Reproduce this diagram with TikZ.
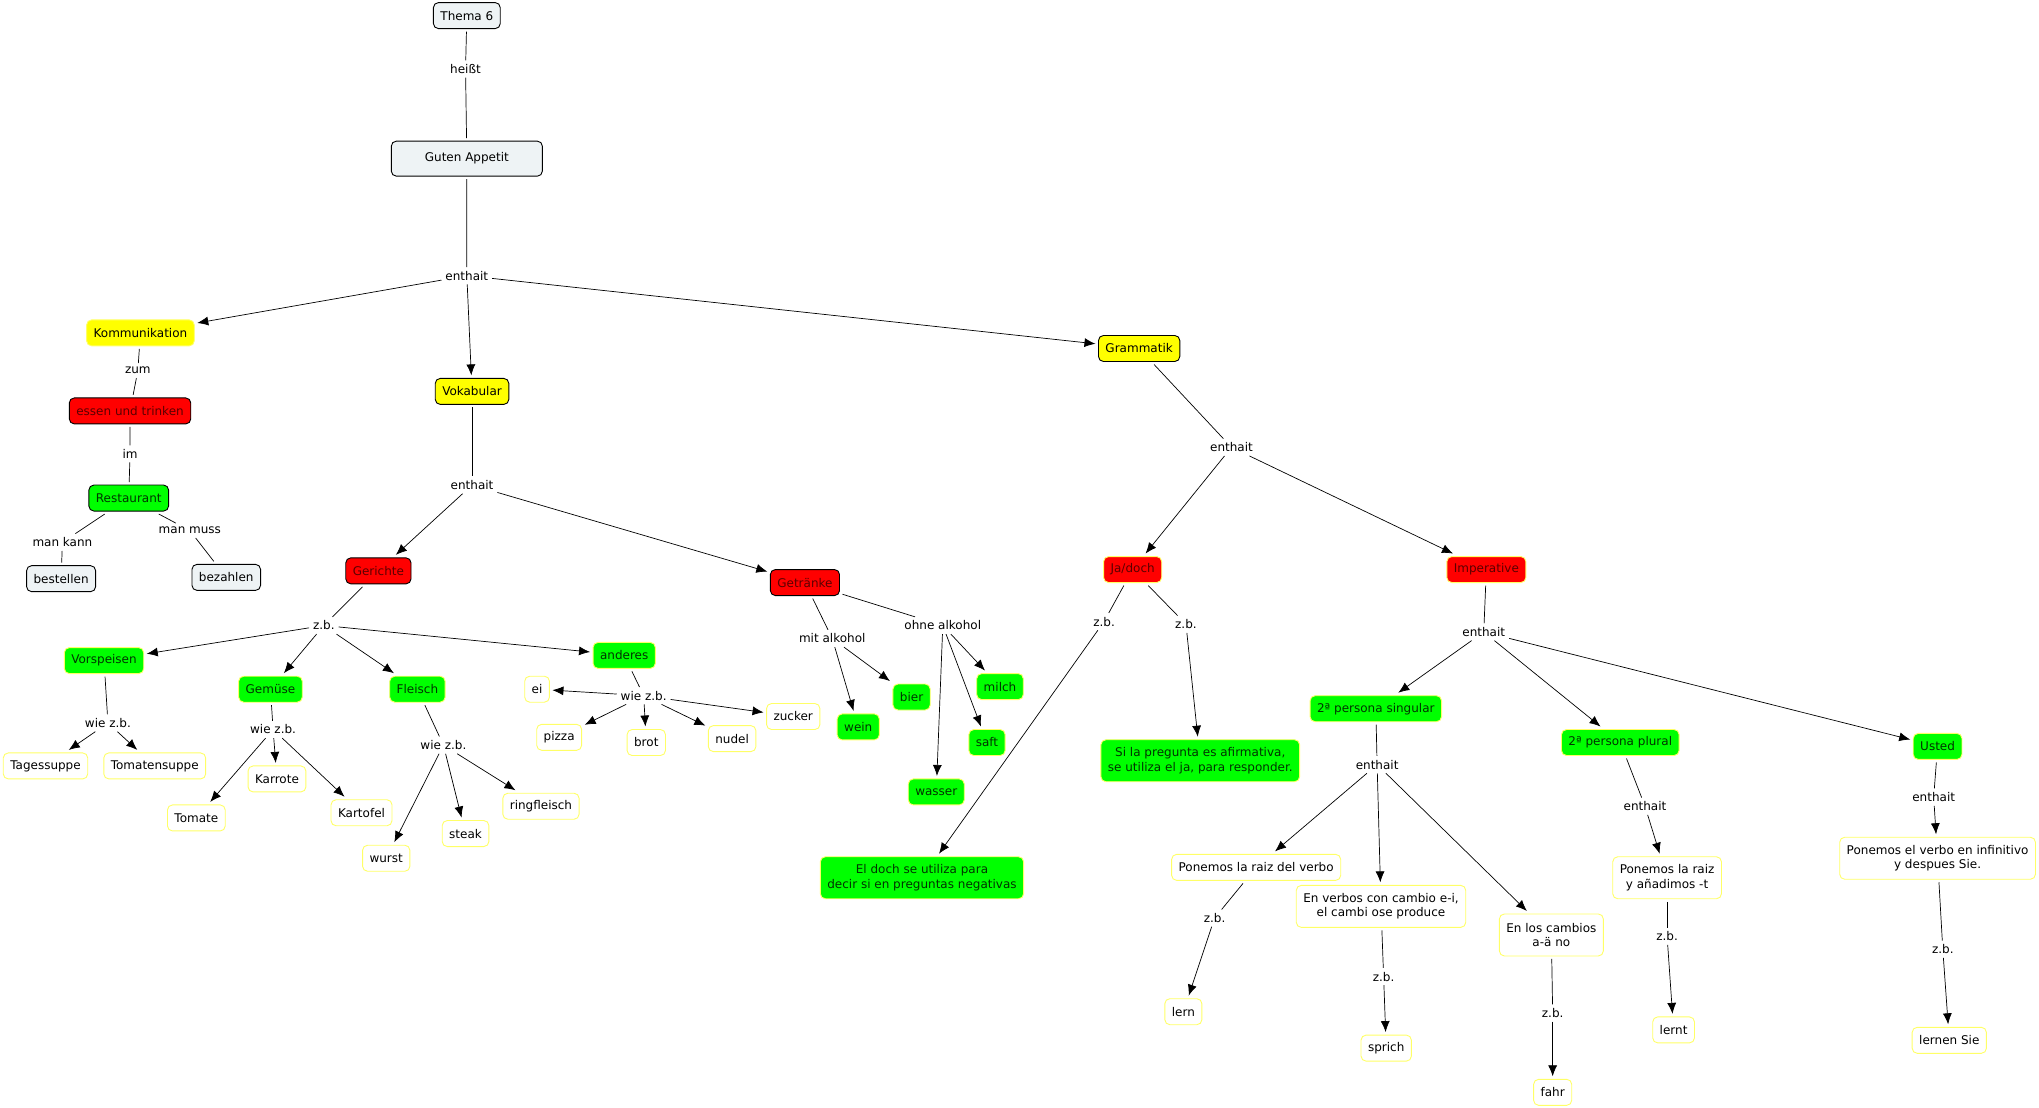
\documentclass[tikz,border=0pt]{standalone}
\usepackage{fontspec}
\setmainfont{DejaVu Sans}
\usetikzlibrary{arrows.meta}
\definecolor{cgray}{HTML}{EEF3F5}
\definecolor{cyel}{HTML}{FFFF00}
\definecolor{cred}{HTML}{FF0000}
\definecolor{cgrn}{HTML}{00FF00}
\definecolor{cedge}{HTML}{FFFF66}
\definecolor{tred}{HTML}{5A0000}
\definecolor{tgrn}{HTML}{003300}

\begin{document}
\begin{tikzpicture}[x=1.3pt,y=-1.3pt]
	\tikzset{every node/.style={font=\fontsize{12}{14.5}\selectfont}}
	\tikzset{cpt/.style={draw=black,line width=0.9pt,rounded corners=5pt,inner xsep=7pt,inner ysep=4pt,minimum height=26pt,outer sep=3pt,align=center}}
	\tikzset{gry/.style={cpt,fill=cgray}}
	\tikzset{ylw/.style={cpt,fill=cyel}}
	\tikzset{rd/.style={cpt,fill=cred,text=tred}}
	\tikzset{grn/.style={cpt,fill=cgrn,text=tgrn}}
	\tikzset{wht/.style={cpt,fill=white,draw=cedge}}
	\tikzset{pale/.style={draw=cedge}}
	\tikzset{two/.style={minimum height=42pt}}
	\tikzset{lnk/.style={inner sep=1pt,outer sep=3pt}}
	\tikzset{arr/.style={-{Latex[length=11pt,width=9pt]}}}
	\tikzset{every path/.style={line width=0.7pt}}
	\useasboundingbox (0,0) rectangle (1568,852);

	\node[gry] (thema) at (359,12) {Thema 6};
	\node[gry,minimum width=151pt,minimum height=35pt] (guten) at (359,122) {Guten Appetit};
	\node[ylw,pale] (kom) at (108,256) {Kommunikation};
	\node[rd] (essen) at (100,316) {essen und trinken};
	\node[grn] (rest) at (99,383) {Restaurant};
	\node[gry] (best) at (47,445) {bestellen};
	\node[gry] (bez) at (174,444) {bezahlen};
	\node[ylw] (vok) at (363,301) {Vokabular};
	\node[rd] (ger) at (291,439) {Gerichte};
	\node[rd] (getr) at (619,448) {Getränke};
	\node[grn,pale] (vors) at (80,508) {Vorspeisen};
	\node[grn,pale] (gem) at (208,530) {Gemüse};
	\node[grn,pale] (fle) at (321,530) {Fleisch};
	\node[grn,pale] (and) at (480,504) {anderes};
	\node[wht] (tag) at (35,589) {Tagessuppe};
	\node[wht] (tsup) at (119,589) {Tomatensuppe};
	\node[wht] (tom) at (151,629) {Tomate};
	\node[wht] (kar) at (213,599) {Karrote};
	\node[wht] (kart) at (278,625) {Kartofel};
	\node[wht] (wur) at (297,660) {wurst};
	\node[wht] (ste) at (358,641) {steak};
	\node[wht] (ring) at (416,620) {ringfleisch};
	\node[wht] (ei) at (413,530) {ei};
	\node[wht] (piz) at (430,567) {pizza};
	\node[wht] (bro) at (497,571) {brot};
	\node[wht] (nud) at (563,568) {nudel};
	\node[wht] (zuc) at (610,551) {zucker};
	\node[grn,pale] (wein) at (660,559) {wein};
	\node[grn,pale] (bier) at (701,536) {bier};
	\node[grn,pale] (milch) at (769,528) {milch};
	\node[grn,pale] (saft) at (759,571) {saft};
	\node[grn,pale] (wass) at (720,609) {wasser};
	\node[grn,pale,two] (doch) at (709,675) {El doch se utiliza para\\decir si en preguntas negativas};
	\node[ylw] (gram) at (876,268) {Grammatik};
	\node[rd,pale] (ja) at (871,438) {Ja/doch};
	\node[rd,pale] (imp) at (1143,438) {Imperative};
	\node[grn,pale,two] (sija) at (923,585) {Si la pregunta es afirmativa,\\se utiliza el ja, para responder.};
	\node[grn,pale] (sing) at (1058,545) {2ª persona singular};
	\node[grn,pale] (plur) at (1246,571) {2ª persona plural};
	\node[grn,pale] (ust) at (1490,574) {Usted};
	\node[wht] (raiz) at (966,667) {Ponemos la raiz del verbo};
	\node[wht,two] (camb) at (1062,697) {En verbos con cambio e-i,\\el cambi ose produce};
	\node[wht,two] (noca) at (1193,719) {En los cambios\\a-ä no};
	\node[wht,two] (raizt) at (1282,675) {Ponemos la raiz\\y añadimos -t};
	\node[wht,two] (inf) at (1490,660) {Ponemos el verbo en infinitivo\\y despues Sie.};
	\node[wht] (lern) at (910,778) {lern};
	\node[wht] (spr) at (1066,806) {sprich};
	\node[wht] (fahr) at (1194,840) {fahr};
	\node[wht] (lernt) at (1287,792) {lernt};
	\node[wht] (lsie) at (1499,800) {lernen Sie};

	\node[lnk] (hst) at (358,53) {heißt};
	\node[lnk] (ent1) at (359,212) {enthait};
	\node[lnk] (zum) at (106,285) {zum};
	\node[lnk] (im) at (100,349) {im};
	\node[lnk] (mk) at (48,417) {man kann};
	\node[lnk] (mm) at (146,408) {man muss};
	\node[lnk] (ent2) at (363,373) {enthait};
	\node[lnk] (zb1) at (249,481) {z.b.};
	\node[lnk] (wz1) at (83,556) {wie z.b.};
	\node[lnk] (wz2) at (210,561) {wie z.b.};
	\node[lnk] (wz3) at (341,573) {wie z.b.};
	\node[lnk] (wz4) at (495,535) {wie z.b.};
	\node[lnk] (mit) at (640,491) {mit alkohol};
	\node[lnk] (ohne) at (725,481) {ohne alkohol};
	\node[lnk] (ent3) at (947,344) {enthait};
	\node[lnk] (zbj1) at (849,478) {z.b.};
	\node[lnk] (zbj2) at (912,480) {z.b.};
	\node[lnk] (ent4) at (1141,486) {enthait};
	\node[lnk] (ent5) at (1059,588) {enthait};
	\node[lnk] (ent6) at (1265,620) {enthait};
	\node[lnk] (ent7) at (1487,613) {enthait};
	\node[lnk] (zb2) at (934,706) {z.b.};
	\node[lnk] (zb3) at (1064,751) {z.b.};
	\node[lnk] (zb4) at (1194,779) {z.b.};
	\node[lnk] (zb5) at (1282,720) {z.b.};
	\node[lnk] (zb6) at (1494,730) {z.b.};

	\draw (thema) -- (hst) -- (guten) -- (ent1);
	\foreach \t in {kom,vok,gram} \draw[arr] (ent1) -- (\t);
	\draw (kom) -- (zum) -- (essen) -- (im) -- (rest);
	\draw (rest) -- (mk) -- (best);
	\draw (rest) -- (mm) -- (bez);
	\draw (vok) -- (ent2);
	\foreach \t in {ger,getr} \draw[arr] (ent2) -- (\t);
	\draw (ger) -- (zb1);
	\foreach \t in {vors,gem,fle,and} \draw[arr] (zb1) -- (\t);
	\draw (vors) -- (wz1);
	\foreach \t in {tag,tsup} \draw[arr] (wz1) -- (\t);
	\draw (gem) -- (wz2);
	\foreach \t in {tom,kar,kart} \draw[arr] (wz2) -- (\t);
	\draw (fle) -- (wz3);
	\foreach \t in {wur,ste,ring} \draw[arr] (wz3) -- (\t);
	\draw (and) -- (wz4);
	\foreach \t in {ei,piz,bro,nud,zuc} \draw[arr] (wz4) -- (\t);
	\draw (getr) -- (mit);
	\draw (getr) -- (ohne);
	\foreach \t in {wein,bier} \draw[arr] (mit) -- (\t);
	\foreach \t in {milch,saft,wass} \draw[arr] (ohne) -- (\t);
	\draw (gram) -- (ent3);
	\foreach \t in {ja,imp} \draw[arr] (ent3) -- (\t);
	\draw (ja) -- (zbj1);
	\draw[arr] (zbj1) -- (doch);
	\draw (ja) -- (zbj2);
	\draw[arr] (zbj2) -- (sija);
	\draw (imp) -- (ent4);
	\foreach \t in {sing,plur,ust} \draw[arr] (ent4) -- (\t);
	\draw (sing) -- (ent5);
	\foreach \t in {raiz,camb,noca} \draw[arr] (ent5) -- (\t);
	\draw (plur) -- (ent6);
	\draw[arr] (ent6) -- (raizt);
	\draw (ust) -- (ent7);
	\draw[arr] (ent7) -- (inf);
	\draw (raiz) -- (zb2);
	\draw[arr] (zb2) -- (lern);
	\draw (camb) -- (zb3);
	\draw[arr] (zb3) -- (spr);
	\draw (noca) -- (zb4);
	\draw[arr] (zb4) -- (fahr);
	\draw (raizt) -- (zb5);
	\draw[arr] (zb5) -- (lernt);
	\draw (inf) -- (zb6);
	\draw[arr] (zb6) -- (lsie);
\end{tikzpicture}
\end{document}
